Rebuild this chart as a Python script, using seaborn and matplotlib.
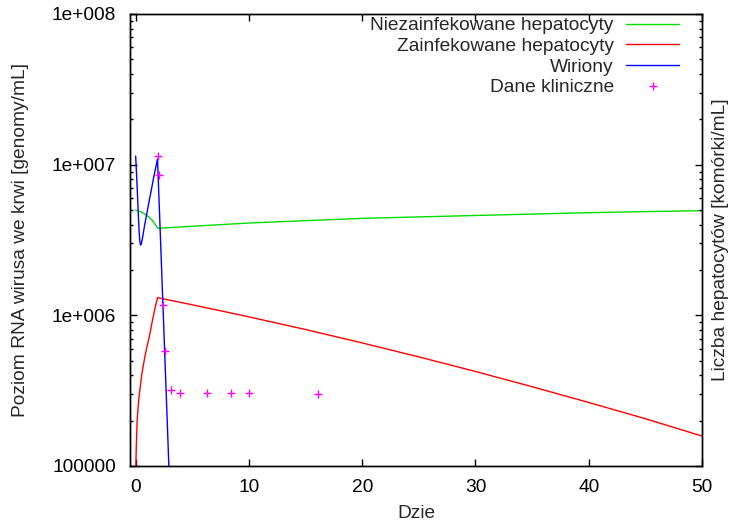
import matplotlib
matplotlib.use("Agg")
import matplotlib.pyplot as plt
import matplotlib.ticker as mticker
import seaborn as sns
import numpy as np

# ---- data ----
green_x = [0.0, 0.5, 0.96, 1.5, 1.96, 5, 10, 15, 20, 25, 30, 35, 40, 45, 50]
green_y = [5.0e6, 4.85e6, 4.63e6, 4.25e6, 3.78e6, 3.9e6, 4.1e6, 4.25e6, 4.4e6,
           4.5e6, 4.6e6, 4.7e6, 4.8e6, 4.88e6, 4.95e6]

red_x = [0.0, 0.02, 0.05, 0.13, 0.25, 0.37, 0.55, 0.81, 1.0, 1.2, 1.4, 1.55, 1.75, 1.93,
         5, 10, 15, 20, 25, 30, 35, 40, 45, 50]
red_y = [5e4, 1.0e5, 1.3e5, 2.0e5, 2.65e5, 3.2e5, 4.1e5, 5.3e5, 6.2e5, 7.2e5, 8.6e5,
         9.8e5, 1.15e6, 1.31e6,
         1.175e6, 9.77e5, 8.05e5, 6.56e5, 5.30e5, 4.24e5, 3.36e5, 2.64e5, 2.06e5, 1.58e5]

blue_x = [0.0, 0.05, 0.1, 0.15, 0.2, 0.25, 0.3, 0.36, 0.43, 0.5, 0.6, 0.8, 1.0, 1.2,
          1.4, 1.6, 1.8, 1.93, 2.2, 2.5, 2.8, 3.0, 3.2]
blue_y = [1.14e7, 9.6e6, 8.0e6, 6.6e6, 5.4e6, 4.4e6, 3.7e6, 3.15e6, 2.93e6, 2.98e6,
          3.25e6, 4.0e6, 4.8e6, 5.8e6, 6.9e6, 8.3e6, 9.8e6, 1.09e7,
          3.1e6, 7.6e5, 1.86e5, 7.2e4, 2.8e4]

clin_x = [1.99, 2.05, 2.37, 2.58, 3.08, 3.93, 6.28, 8.4, 10.0, 16.1]
clin_y = [1.15e7, 8.6e6, 1.17e6, 5.84e5, 3.2e5, 3.04e5, 3.06e5, 3.06e5, 3.06e5, 3.0e5]

labels = ["Niezainfekowane hepatocyty", "Zainfekowane hepatocyty", "Wiriony", "Dane kliniczne"]
x_ticks = [0, 10, 20, 30, 40, 50]
y_ticks = [1e5, 1e6, 1e7, 1e8]
y_tick_labels = ["100000", "1e+006", "1e+007", "1e+008"]

sns.set_style("ticks")
plt.rcParams['font.family'] = ['Liberation Sans', 'DejaVu Sans']
FS = 13.8

fig = plt.figure(figsize=(7.32, 5.26), dpi=100)
ax = fig.add_axes([130/732, 1-466/526, 572/732, 452/526])

sns.lineplot(x=green_x, y=green_y, ax=ax, color='#00dd00', lw=1.0, label=labels[0],
             sort=False, estimator=None)
sns.lineplot(x=red_x, y=red_y, ax=ax, color='#ff0000', lw=1.0, label=labels[1],
             sort=False, estimator=None)
sns.lineplot(x=blue_x, y=blue_y, ax=ax, color='#0000ff', lw=1.0, label=labels[2],
             sort=False, estimator=None)
ax.plot(clin_x, clin_y, linestyle='none', marker='+', color='#ff00ff',
        markersize=6, mew=1.0, label=labels[3])

ax.set_yscale('log')
ax.set_xlim(-0.5, 50)
ax.set_ylim(1e5, 1e8)
ax.set_xticks(x_ticks)
ax.set_xticklabels([str(t) for t in x_ticks], fontsize=FS)
ax.yaxis.set_major_locator(mticker.FixedLocator(y_ticks))
ax.yaxis.set_major_formatter(mticker.FixedFormatter(y_tick_labels))
ax.yaxis.set_minor_locator(mticker.LogLocator(base=10, subs=np.arange(2, 10)))
ax.yaxis.set_minor_formatter(mticker.NullFormatter())
ax.tick_params(axis='y', which='major', labelsize=FS)

ax.tick_params(which='major', direction='in', length=5, width=1, top=True, colors='black')
ax.tick_params(axis='x', which='major', pad=9)
ax.tick_params(axis='y', which='major', pad=10)
ax.tick_params(which='minor', direction='in', length=2.5, width=1, colors='black')
ax.tick_params(axis='y', which='both', right=False)
ax.tick_params(axis='x', which='minor', bottom=False, top=False)

for s in ax.spines.values():
    s.set_visible(True)
    s.set_color('black')
    s.set_linewidth(1.0)

ax.set_xlabel("Dzie", fontsize=FS, labelpad=7)
ax.set_ylabel("Poziom RNA wirusa we krwi [genomy/mL]", fontsize=FS)
ax.yaxis.set_label_coords(-0.176, 0.5)

ax2 = ax.twinx()
ax2.set_yscale('log')
ax2.set_ylim(1e5, 1e8)
ax2.yaxis.set_major_locator(mticker.FixedLocator(y_ticks))
ax2.yaxis.set_minor_locator(mticker.LogLocator(base=10, subs=np.arange(2, 10)))
ax2.yaxis.set_major_formatter(mticker.NullFormatter())
ax2.yaxis.set_minor_formatter(mticker.NullFormatter())
ax2.tick_params(which='major', direction='in', length=5, width=1, colors='black')
ax2.tick_params(which='minor', direction='in', length=2.5, width=1, colors='black')
ax2.set_ylabel("Liczba hepatocytów [komórki/mL]", fontsize=FS)
ax2.yaxis.set_label_coords(1.017, 0.5)
for s in ax2.spines.values():
    s.set_color('black')
    s.set_linewidth(1.0)

leg = ax.legend(loc='upper right', bbox_to_anchor=((679-130)/572, 1-(17-14)/452),
                frameon=False, markerfirst=False, fontsize=FS, handlelength=2.75,
                handletextpad=0.65, labelspacing=0.17, borderpad=0, borderaxespad=0)

fig.savefig("out.png", dpi=100)
